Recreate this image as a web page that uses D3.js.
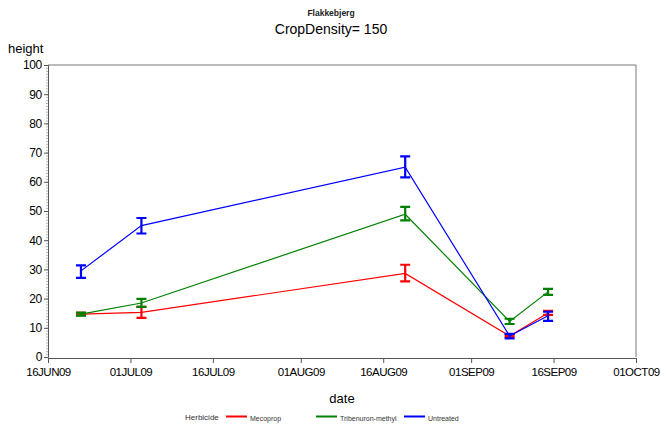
<!DOCTYPE html>
<html>
<head>
<meta charset="utf-8">
<script src="https://cdn.jsdelivr.net/npm/d3@7/dist/d3.min.js"></script>
<style>
  html, body { margin: 0; padding: 0; background: #fff; }
  svg { display: block; font-family: "Liberation Sans", Arial, Helvetica, sans-serif; }
</style>
</head>
<body>
<svg id="chart" width="661" height="425"></svg>
<script>
// Measurement dates (2009)
const dates = ["2009-06-22", "2009-07-03", "2009-08-20", "2009-09-08", "2009-09-15"];

// Herbicide treatments
const herbicides = ["Mecoprop", "Tribenuron-methyl", "Untreated"];
const colors = ["#ff0000", "#008000", "#0000ff"];

// Mean plant height per date
const meanMecoprop   = [14.7, 15.3, 28.6, 7.2, 15.1];
const meanTribenuron = [14.7, 18.5, 48.9, 12.2, 22.3];
const meanUntreated  = [29.5, 45.0, 65.0, 7.2, 14.1];

// Lower / upper limits of the error bars
const lowMecoprop    = [14.3, 13.4, 25.9, 6.9, 14.4];
const highMecoprop   = [15.1, 17.2, 31.6, 7.5, 15.8];
const lowTribenuron  = [14.2, 17.2, 46.8, 11.3, 21.3];
const highTribenuron = [15.2, 19.9, 51.4, 13.1, 23.3];
const lowUntreated   = [27.1, 42.3, 61.5, 6.4, 12.4];
const highUntreated  = [31.4, 47.6, 68.7, 7.9, 15.5];

// Axis ticks
const xTickDates = ["2009-06-16", "2009-07-01", "2009-07-16", "2009-08-01",
                    "2009-08-16", "2009-09-01", "2009-09-16", "2009-10-01"];
const yTicks = [0, 10, 20, 30, 40, 50, 60, 70, 80, 90, 100];

const parse = d3.utcParse("%Y-%m-%d");
const fmt = d => d3.utcFormat("%d%b%y")(d).toUpperCase();

const series = [
  { name: herbicides[0], color: colors[0], mean: meanMecoprop,   lo: lowMecoprop,   hi: highMecoprop },
  { name: herbicides[1], color: colors[1], mean: meanTribenuron, lo: lowTribenuron, hi: highTribenuron },
  { name: herbicides[2], color: colors[2], mean: meanUntreated,  lo: lowUntreated,  hi: highUntreated }
];

const svg = d3.select("#chart");
const plotLeft = 48, plotRight = 636, plotTop = 65, plotBottom = 357;

const x = d3.scaleUtc()
  .domain([parse(xTickDates[0]), parse(xTickDates[xTickDates.length - 1])])
  .range([plotLeft, plotRight]);
const y = d3.scaleLinear().domain([0, 100]).range([plotBottom, plotTop]);

const axisColor = "#555";

// Frame (top and right edges)
svg.append("path")
  .attr("d", `M${plotLeft},${plotTop}H${plotRight}V${plotBottom}`)
  .attr("fill", "none").attr("stroke", "#777").attr("stroke-width", 1);

// Y axis with minor ticks
const yAxis = svg.append("g").attr("transform", `translate(${plotLeft},0)`);
yAxis.selectAll("line.minor")
  .data(d3.range(0, 101, 1))
  .join("line").attr("class", "minor")
  .attr("x1", -2).attr("x2", 0)
  .attr("y1", d => y(d) + 0.5).attr("y2", d => y(d) + 0.5)
  .attr("stroke", "#888").attr("stroke-width", 0.6);
yAxis.call(d3.axisLeft(y).tickValues(yTicks).tickSize(4).tickPadding(2))
  .call(g => g.select(".domain").attr("stroke", axisColor))
  .call(g => g.selectAll(".tick line").attr("stroke", axisColor))
  .call(g => g.selectAll("text").attr("font-size", 12).attr("fill", "#000")
    .attr("letter-spacing", -0.3)
    .attr("font-family", "Liberation Sans, Arial, sans-serif"));

// X axis
const xAxis = svg.append("g").attr("transform", `translate(0,${plotBottom + 1})`);
xAxis.call(d3.axisBottom(x).tickValues(xTickDates.map(parse)).tickFormat(fmt)
    .tickSize(5).tickSizeOuter(0).tickPadding(5))
  .call(g => g.select(".domain").attr("stroke", axisColor))
  .call(g => g.selectAll(".tick line").attr("stroke", axisColor))
  .call(g => g.selectAll("text").attr("font-size", 11.5).attr("fill", "#000")
    .attr("letter-spacing", -0.5)
    .attr("font-family", "Liberation Sans, Arial, sans-serif"));

// Lines and error bars
const line = d3.line().x(d => x(d.date)).y(d => y(d.v));
series.forEach(s => {
  const pts = dates.map((d, i) => ({ date: parse(d), v: s.mean[i], lo: s.lo[i], hi: s.hi[i] }));
  svg.append("path").datum(pts)
    .attr("d", line).attr("fill", "none")
    .attr("stroke", s.color).attr("stroke-width", 1.2);
  const eb = svg.append("g").attr("stroke", s.color).attr("stroke-width", 2.2).attr("fill", "none");
  eb.selectAll("path").data(pts).join("path")
    .attr("d", d => {
      const cx = x(d.date), y1 = y(d.hi), y2 = y(d.lo), w = 5;
      return `M${cx - w},${y1}H${cx + w}M${cx},${y1}V${y2}M${cx - w},${y2}H${cx + w}`;
    });
});

// Titles
svg.append("text").attr("x", 331).attr("y", 16).attr("text-anchor", "middle")
  .attr("font-size", 8.5).attr("font-weight", "bold").attr("fill", "#222").text("Flakkebjerg");
svg.append("text").attr("x", 331).attr("y", 34).attr("text-anchor", "middle")
  .attr("font-size", 14).attr("fill", "#000").text("CropDensity= 150");

// Axis labels
svg.append("text").attr("x", 8).attr("y", 53)
  .attr("font-size", 13).attr("fill", "#000").text("height");
svg.append("text").attr("x", 342).attr("y", 403).attr("text-anchor", "middle")
  .attr("font-size", 13).attr("fill", "#000").text("date");

// Legend
const legend = svg.append("g").attr("font-size", 7).attr("fill", "#333");
legend.append("text").attr("x", 185).attr("y", 420).attr("font-size", 8).text("Herbicide");
const legendX = [226, 316, 404];
series.forEach((s, i) => {
  legend.append("line").attr("x1", legendX[i]).attr("x2", legendX[i] + 21)
    .attr("y1", 416.5).attr("y2", 416.5)
    .attr("stroke", s.color).attr("stroke-width", 2);
  legend.append("text").attr("x", legendX[i] + 24).attr("y", 420.5).text(s.name);
});
</script>
</body>
</html>
